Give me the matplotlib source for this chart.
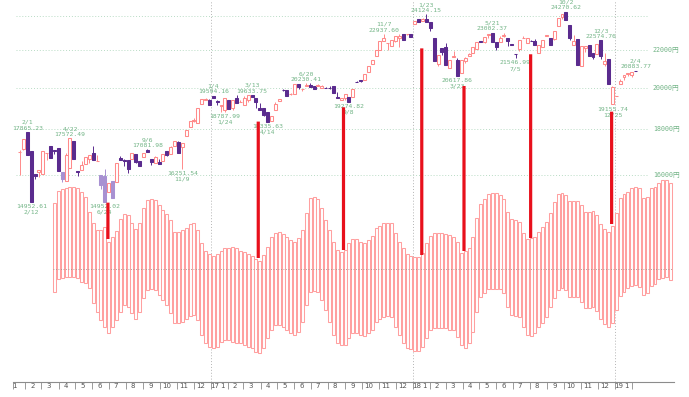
import pandas as pd
import matplotlib
matplotlib.use("Agg")
import matplotlib.pyplot as plt
import matplotlib.transforms as mtransforms
from matplotlib.patches import Rectangle, ConnectionPatch

# weekly candles (close based), first week 2016-01-18, last week 2019-02-04
opens = [16955, 17110, 17865, 17004, 16022, 16111, 16026, 16911, 17233, 17048,
         17134, 16123, 15751, 16275, 17440, 16147, 16216, 16466, 16654, 16931,
         16580, 16019, 15965, 15309, 15775, 15708, 16723, 16620, 16635, 16650,
         16869, 16598, 16737, 17037, 16672, 16492, 16544, 16598, 17024, 16900,
         17234, 17425, 17177, 17672, 18106, 18356, 18274, 19155, 19391, 19396,
         19594, 19301, 19095, 18891, 19368, 18976, 19459, 19251, 19107, 19379,
         19633, 19455, 18985, 18983, 18797, 18355, 18875, 19310, 19895, 19869,
         19678, 19682, 20170, 19908, 20067, 20153, 20055, 20080, 20000, 19975,
         19985, 20055, 19537, 19393, 19449, 19508, 19545, 20299, 20397, 20400,
         20823, 21255, 21696, 22011, 22548, 22380, 22261, 22495, 22707, 22938,
         22901, 22939, 23506, 23849, 23714, 23816, 23629, 22682, 21244, 22149,
         22153, 21042, 21620, 21480, 20766, 21388, 21678, 21835, 22088, 22508,
         22467, 22865, 23002, 22481, 22475, 22804, 22680, 22338, 21811, 22052,
         22697, 22396, 22544, 22507, 21857, 22199, 22799, 22707, 22664, 23420,
         23940, 24245, 23469, 22271, 22614, 21149, 22147, 22269, 21821, 21812,
         22574, 21219, 21506, 19155, 19561, 20204, 20555, 20719, 20649, 20883]
highs = [17048, 17518, 17865, 17004, 16054, 16188, 17014, 16938, 17233, 17048,
         17134, 16123, 16911, 17572, 17440, 16147, 16579, 16736, 16834, 17234,
         16830, 16019, 16238, 15682, 15775, 16497, 16810, 16664, 16635, 16919,
         16869, 16598, 16925, 17081, 16672, 16807, 16683, 16899, 17024, 17235,
         17446, 17442, 17374, 17967, 18381, 18513, 18996, 19401, 19494, 19403,
         19594, 19364, 19137, 19467, 19368, 19378, 19619, 19381, 19564, 19604,
         19633, 19455, 19217, 18983, 18797, 18620, 19289, 19445, 19919, 19869,
         19742, 20177, 20170, 19943, 20230, 20225, 20081, 20195, 20144, 20050,
         20080, 20055, 19753, 19453, 19691, 19508, 19909, 20347, 20397, 20690,
         21155, 21457, 22008, 22539, 22937, 22380, 22550, 22819, 22938, 22938,
         22901, 22939, 23714, 23849, 23868, 24124, 23629, 22682, 21720, 22149,
         22389, 21469, 21968, 21590, 21454, 21645, 21835, 22191, 22467, 22508,
         22758, 22930, 23002, 22481, 22823, 22966, 22692, 22342, 21811, 22597,
         22794, 22712, 22553, 22662, 22270, 22601, 22869, 22707, 23094, 23869,
         24120, 24270, 23469, 22841, 22614, 22243, 22250, 22269, 21821, 22351,
         22574, 21816, 21506, 20077, 19561, 20427, 20666, 20773, 20788, 20883]
lows = [16017, 17041, 16819, 14952, 15836, 15916, 16026, 16642, 16724, 16892,
        16164, 15713, 15751, 16275, 16666, 15975, 16216, 16466, 16498, 16642,
        16580, 15434, 14952, 15309, 15106, 15708, 16627, 16383, 16083, 16650,
        16486, 16360, 16737, 16958, 16401, 16492, 16449, 16598, 16774, 16900,
        17234, 16905, 16251, 17672, 18106, 18308, 18274, 19155, 19391, 19114,
        19454, 19134, 18813, 18787, 18914, 18907, 19234, 19251, 19107, 19254,
        19521, 18990, 18909, 18597, 18335, 18355, 18875, 19310, 19843, 19553,
        19613, 19650, 19913, 19831, 20067, 20033, 19929, 20080, 20000, 19959,
        19925, 19729, 19470, 19353, 19362, 19274, 19545, 20296, 20267, 20400,
        20823, 21255, 21696, 22011, 22548, 22028, 22261, 22486, 22177, 22553,
        22866, 22764, 23506, 23653, 23714, 23631, 23098, 21382, 21154, 21736,
        21181, 21042, 21620, 20617, 20766, 21292, 21660, 21835, 22088, 22472,
        22409, 22717, 22437, 22018, 22475, 22738, 22261, 22270, 21546, 21932,
        22697, 22396, 22525, 22298, 21857, 22199, 22799, 22307, 22600, 23420,
        23796, 23783, 22590, 22271, 21184, 21149, 21898, 21680, 21507, 21812,
        21501, 21148, 20166, 19155, 19561, 20163, 20402, 20574, 20556, 20844]
closes = [16958, 17518, 16819, 14952, 15967, 16188, 17014, 16938, 16724, 17002,
          16164, 15821, 16848, 17572, 16666, 16106, 16412, 16736, 16834, 16642,
          16601, 15599, 14952, 15682, 15106, 16497, 16627, 16569, 16254, 16919,
          16545, 16360, 16925, 16965, 16519, 16754, 16449, 16860, 16856, 17184,
          17446, 16905, 17374, 17967, 18381, 18426, 18996, 19401, 19427, 19114,
          19454, 19287, 19137, 19467, 18918, 19378, 19234, 19283, 19469, 19604,
          19521, 19262, 18909, 18664, 18335, 18620, 19196, 19445, 19883, 19590,
          19686, 20177, 20013, 19943, 20132, 20033, 19929, 20118, 20099, 19959,
          19952, 19729, 19470, 19452, 19691, 19274, 19909, 20296, 20356, 20690,
          21155, 21457, 22008, 22539, 22681, 22396, 22550, 22819, 22811, 22553,
          22902, 22764, 23714, 23653, 23808, 23631, 23274, 21382, 21720, 21892,
          21181, 21469, 21676, 20617, 21454, 21567, 21778, 22162, 22467, 22472,
          22758, 22930, 22450, 22171, 22694, 22851, 22516, 22304, 21788, 22597,
          22697, 22712, 22525, 22298, 22270, 22601, 22865, 22307, 23094, 23869,
          24120, 23783, 22694, 22532, 21184, 22243, 22250, 21680, 21646, 22351,
          21678, 21374, 20166, 20014, 19561, 20359, 20666, 20773, 20788, 20844]
faded_weeks = ["2016-04-04", "2016-06-13", "2016-06-20", "2016-07-04"]

# lower band, runs 9 weeks ahead of the candles (first box 2016-03-21)
box_top = [66, 78, 80, 81, 82, 82, 81, 77, 72, 57,
           46, 39, 39, 42, 27, 32, 38, 50, 55, 54,
           46, 40, 46, 61, 69, 70, 69, 64, 59, 55,
           49, 37, 37, 39, 41, 45, 46, 39, 26, 18,
           15, 13, 15, 18, 21, 21, 22, 21, 18, 17,
           15, 13, 10, 8, 14, 22, 32, 36, 37, 35,
           32, 29, 27, 31, 39, 56, 71, 72, 70, 61,
           49, 39, 27, 19, 17, 19, 26, 30, 30, 27,
           26, 29, 33, 41, 43, 46, 46, 46, 36, 27,
           21, 15, 13, 12, 12, 16, 26, 33, 36, 36,
           36, 35, 34, 32, 27, 16, 18, 21, 32, 51,
           65, 70, 75, 76, 76, 74, 70, 57, 50, 49,
           47, 36, 30, 31, 32, 37, 42, 47, 56, 67,
           75, 76, 74, 68, 68, 68, 64, 57, 57, 58,
           54, 45, 40, 37, 43, 56, 71, 75, 77, 81,
           82, 81, 71, 72, 81, 82, 86, 89, 89, 86]
box_bot = [-23, -10, -9, -8, -8, -8, -9, -13, -14, -19,
           -34, -43, -51, -58, -64, -58, -51, -43, -36, -38,
           -44, -50, -43, -29, -21, -20, -21, -26, -31, -36,
           -44, -54, -54, -53, -50, -47, -46, -51, -66, -74,
           -78, -79, -78, -73, -71, -71, -73, -74, -74, -76,
           -78, -79, -83, -84, -79, -69, -61, -56, -56, -58,
           -61, -64, -66, -63, -53, -36, -23, -22, -23, -31,
           -41, -53, -66, -74, -76, -76, -69, -64, -64, -66,
           -67, -64, -61, -53, -50, -48, -47, -48, -58, -66,
           -74, -79, -80, -82, -82, -78, -69, -61, -59, -59,
           -59, -59, -61, -61, -68, -76, -79, -74, -63, -43,
           -28, -24, -20, -20, -20, -20, -24, -38, -46, -47,
           -48, -58, -66, -67, -64, -58, -54, -48, -38, -29,
           -21, -19, -21, -28, -28, -28, -33, -39, -39, -38,
           -42, -50, -55, -58, -54, -41, -27, -23, -19, -17,
           -16, -18, -26, -24, -17, -15, -10, -9, -8, -11]

# red signal lines: week (after 2016-02-01), price end, band end
signal_week = [20.8, 59.6, 81.6, 101.8, 112.7, 129.9, 150.8]
signal_price = [14910, 18335, 19016, 22100, 20078, 21770, 18805]
signal_band = [30, 11, 19, 14, 18, 31, 45]

# labelled highs / lows: (date of week, value, text date)
high_marks = [("2016-02-01", 17865.23, "2/1"), ("2016-04-18", 17572.49, "4/22"),
              ("2016-09-05", 17081.98, "9/6"), ("2017-01-02", 19594.16, "1/4"),
              ("2017-03-13", 19633.75, "3/13"), ("2017-06-19", 20230.41, "6/20"),
              ("2017-11-06", 22937.60, "11/7"), ("2018-01-22", 24124.15, "1/23"),
              ("2018-05-21", 23002.37, "5/21"), ("2018-10-01", 24270.62, "10/2"),
              ("2018-12-03", 22574.76, "12/3"), ("2019-02-04", 20883.77, "2/4")]
low_marks = [("2016-02-08", 14952.61, "2/12"), ("2016-06-20", 14952.02, "6/24"),
             ("2016-11-07", 16251.54, "11/9"), ("2017-01-23", 18787.99, "1/24"),
             ("2017-04-10", 18335.63, "4/14"), ("2017-09-04", 19274.82, "9/8"),
             ("2018-03-19", 20617.86, "3/23"), ("2018-07-02", 21546.99, "7/5"),
             ("2018-12-24", 19155.74, "12/25")]
price_levels = [16000, 18000, 20000, 22000, 24000]
price_labels = [16000, 18000, 20000, 22000]

UP = "#ff8a8a"
DOWN = "#5a2b8e"
FADED = "#a891d2"
BAND = "#ffa0a0"
RED = "#e8101c"
GREEN = "#72b486"
MONO = ["DejaVu Sans Mono", "Noto Sans CJK JP"]
FS = 4.6

ref = pd.Timestamp("2016-02-01")


def wk(d):
    return (pd.Timestamp(d) - ref).days / 7


def month_x(d):
    return ((pd.Timestamp(d) - ref).days - 3.5) / 7


candle_x = [wk(d) for d in pd.date_range("2016-01-18", periods=len(closes), freq="7D")]
box_x = [wk(d) for d in pd.date_range("2016-03-21", periods=len(box_top), freq="7D")]
faded_x = [wk(d) for d in faded_weeks]

fig = plt.figure(figsize=(6.89, 3.97), dpi=100)
rect = [13 / 689, 15.3 / 397, 661 / 689, 381.7 / 397]
ax_ind = fig.add_axes(rect, zorder=1)
ax_px = fig.add_axes(rect, zorder=2, sharex=ax_ind)
ax_px.patch.set_visible(False)

x0, x1 = -3.7, 166.9
ax_ind.set_xlim(x0, x1)
ax_ind.set_ylim(-112.7, 269)
ax_px.set_yscale("log")
ax_px.set_ylim(9443, 25003)

for a in (ax_ind, ax_px):
    for s in a.spines.values():
        s.set_visible(False)
    a.set_yticks([])
    a.minorticks_off()
ax_px.tick_params(axis="x", bottom=False, labelbottom=False)

# year separators (behind the band)
for yr in ["2017-01-01", "2018-01-01", "2019-01-01"]:
    ax_ind.axvline(month_x(yr), color="#b4b4b4", ls=(0, (1, 2)), lw=0.7, zorder=0)

# band boxes
for x, t, b in zip(box_x, box_top, box_bot):
    ax_ind.add_patch(Rectangle((x - 0.38, b), 0.76, t - b, facecolor="white",
                               edgecolor=BAND, lw=0.75, zorder=2))
ax_ind.hlines(0, box_x[0] - 0.4, box_x[-1] + 0.4, color="#9c8c84",
              ls=(0, (1, 2)), lw=0.6, zorder=3)

# price grid and labels
for lv in price_levels:
    ax_px.axhline(lv, xmin=0.0045, xmax=0.961, color="#b9dcc5",
                  ls=(0, (1, 2)), lw=0.7, zorder=0)
yx = mtransforms.blended_transform_factory(ax_px.transAxes, ax_px.transData)
for lv in price_labels:
    ax_px.text(0.968, lv, f"{lv}円", transform=yx, ha="left", va="center",
               fontsize=4.8, color=GREEN, family=MONO)

# candles
for x, o, h, l, c in zip(candle_x, opens, highs, lows, closes):
    if c >= o:
        col, face = UP, "white"
    else:
        col = FADED if x in faded_x else DOWN
        face = col
    ax_px.vlines(x, l, h, color=col, lw=0.7, zorder=3)
    ax_px.add_patch(Rectangle((x - 0.38, min(o, c)), 0.76, abs(c - o),
                              facecolor=face, edgecolor=col, lw=0.75, zorder=4))

# high / low annotations
for d, v, t in high_marks:
    x = wk(d)
    ax_px.annotate(f"{v:.2f}", (x, v), xytext=(0, 0.9), textcoords="offset points",
                   ha="center", va="bottom", fontsize=FS, color=GREEN, family=MONO)
    ax_px.annotate(t, (x, v), xytext=(0, 5.0), textcoords="offset points",
                   ha="center", va="bottom", fontsize=FS, color=GREEN, family=MONO)
for d, v, t in low_marks:
    x = wk(d)
    ax_px.annotate(f"{v:.2f}", (x, v), xytext=(0, -1.5), textcoords="offset points",
                   ha="center", va="top", fontsize=FS, color=GREEN, family=MONO)
    ax_px.annotate(t, (x, v), xytext=(0, -5.6), textcoords="offset points",
                   ha="center", va="top", fontsize=FS, color=GREEN, family=MONO)

# red signal lines from price to band
for x, p, b in zip(signal_week, signal_price, signal_band):
    con = ConnectionPatch(xyA=(x, p), coordsA=ax_px.transData,
                          xyB=(x, b), coordsB=ax_ind.transData,
                          color=RED, lw=2.3, capstyle="butt", zorder=10)
    fig.add_artist(con)

# month axis
months = pd.date_range("2016-02-01", "2019-02-01", freq="MS")
ax_ind.spines["bottom"].set_visible(True)
ax_ind.spines["bottom"].set_color("#8c8c8c")
ax_ind.spines["bottom"].set_linewidth(0.8)
ax_ind.set_xticks([x0] + [month_x(m) for m in months])
ax_ind.tick_params(axis="x", direction="out", length=5, width=0.6,
                   color="#8c8c8c", labelbottom=False)
lab = mtransforms.blended_transform_factory(ax_ind.transData, ax_ind.transAxes)
kw = dict(transform=lab, va="center", ha="center", fontsize=5, color="#555555",
          clip_on=False)
ax_ind.text(x0 + 0.5, -0.0115, "1", **kw)
for m in months[:-1]:
    mx = month_x(m)
    if m.month == 1:
        ax_ind.text(mx + 1.0, -0.0115, f"{m.year % 100}", **kw)
        ax_ind.text(mx + 3.0, -0.0115, "1", **kw)
    else:
        ax_ind.text(mx + 1.8, -0.0115, f"{m.month}", **kw)

fig.savefig("out.png", dpi=100)
